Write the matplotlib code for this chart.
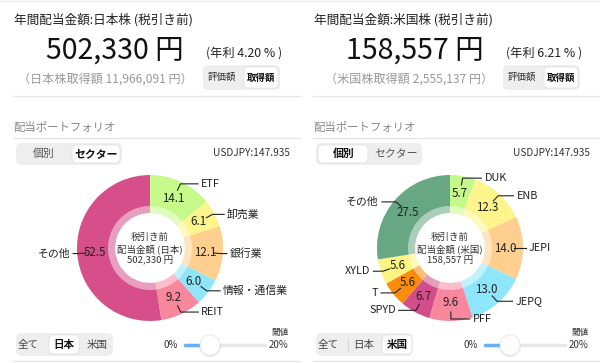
import matplotlib
matplotlib.use("Agg")
import numpy as np
import matplotlib.pyplot as plt
from matplotlib.patches import FancyBboxPatch, Circle, Wedge

plt.rcParams['font.family'] = ['Noto Sans CJK JP', 'DejaVu Sans']

# data
jp_labels = ["ETF", "卸売業", "銀行業", "情報・通信業", "REIT", "その他"]
jp_values = [14.1, 6.1, 12.1, 6.0, 9.2, 52.5]
jp_colors = ["#c5fa8a", "#fdf58c", "#fecf8f", "#8de6fa", "#f7879d", "#d64f8b"]

us_labels = ["DUK", "ENB", "JEPI", "JEPQ", "PFF", "SPYD", "T", "XYLD", "その他"]
us_values = [5.7, 12.3, 14.0, 13.0, 9.6, 6.7, 5.6, 5.6, 27.5]
us_colors = ["#c5fa8a", "#fdf58c", "#fecf8f", "#8de6fa", "#f7879d",
             "#d14e8a", "#f98c0c", "#fdf582", "#68a783"]

jp_head = dict(market="日本", total="502,330", rate="4.20", cost="11,966,091")
us_head = dict(market="米国", total="158,557", rate="6.21", cost="2,555,137")

W, H = 600, 363
fig = plt.figure(figsize=(6, 3.63), dpi=100)
bg = fig.add_axes([0, 0, 1, 1])
bg.set_xlim(0, W)
bg.set_ylim(H, 0)
bg.axis("off")

TXT = "#222222"
GRAY = "#999999"
LINE = "#e6e6e6"


def rbox(x, y, w, h, r, fc, ec="none", lw=0, z=1):
    bg.add_patch(FancyBboxPatch((x, y), w, h, boxstyle=f"round,pad=0,rounding_size={r}",
                                fc=fc, ec=ec, lw=lw, zorder=z))


def header(ox, info, seg_sel, area_sel):
    m = info["market"]
    bg.text(ox + 14, 24, f"年間配当金額:{m}株 (税引き前)", fontsize=9.1, color=TXT, va="baseline")
    bg.text(ox + 184, 59, f"{info['total']} 円", fontsize=20.5, color="#111111",
            ha="right", va="baseline")
    bg.text(ox + 282, 57, f"(年利 {info['rate']} % )", fontsize=8.8, color=TXT,
            ha="right", va="baseline")
    bg.text(ox + 193, 83, f"（{m}株取得額 {info['cost']} 円）", fontsize=8.7, color=GRAY,
            ha="right", va="baseline")
    # 評価額 / 取得額 toggle
    rbox(ox + 203, 65, 77, 25, 5, "#eeeeef")
    rbox(ox + 244, 67, 34, 21, 4, "white", ec="#dddddd", lw=0.5, z=2)
    bg.text(ox + 222, 77.5, "評価額", fontsize=6.8, color="#333333", ha="center", va="center", zorder=3)
    bg.text(ox + 261, 77.5, "取得額", fontsize=6.8, color="#111111", ha="center", va="center",
            fontweight="bold", zorder=3)
    bg.plot([ox + 13, ox + 300], [96, 96], color=LINE, lw=1)

    bg.text(ox + 13, 127, "配当ポートフォリオ", fontsize=8.2, color="#888888", va="center")
    bg.plot([ox + 13, ox + 300], [137.5, 137.5], color=LINE, lw=1)

    # 個別 / セクター
    rbox(ox + 16, 143, 106, 22, 6, "#eeeeef")
    if seg_sel == 1:
        rbox(ox + 72, 145, 48, 18, 5, "white", ec="#dddddd", lw=0.5, z=2)
    else:
        rbox(ox + 18, 145, 50, 18, 5, "white", ec="#dddddd", lw=0.5, z=2)
    bg.text(ox + 44, 154, "個別", fontsize=7.8, ha="center", va="center", zorder=3,
            color="#111111" if seg_sel == 0 else "#555555",
            fontweight="bold" if seg_sel == 0 else "normal")
    bg.text(ox + 96, 154, "セクター", fontsize=7.8, ha="center", va="center", zorder=3,
            color="#111111" if seg_sel == 1 else "#555555",
            fontweight="bold" if seg_sel == 1 else "normal")
    bg.text(ox + 290, 153, "USDJPY:147.935", fontsize=7.3, color="#333333", ha="right", va="center")

    # 全て / 日本 / 米国
    rbox(ox + 16, 333, 97, 23, 6, "#eeeeef")
    centers = [28, 64, 97]
    names = ["全て", "日本", "米国"]
    rbox(ox + centers[area_sel] - 15, 335, 30, 19, 5, "white", ec="#dddddd", lw=0.5, z=2)
    if area_sel == 2:
        bg.plot([ox + 48, ox + 48], [339, 350], color="#d6d6d6", lw=0.8, zorder=2)
    for i, (c, n) in enumerate(zip(centers, names)):
        bg.text(ox + c, 345, n, fontsize=7.6, ha="center", va="center", zorder=3,
                color="#111111" if i == area_sel else "#444444",
                fontweight="bold" if i == area_sel else "normal")

    # slider
    bg.text(ox + 178, 345, "0%", fontsize=7, color="#333333", ha="right", va="center")
    bg.text(ox + 269, 345, "20%", fontsize=7, color="#333333", ha="left", va="center")
    bg.text(ox + 288, 332, "閾値", fontsize=6.2, color="#333333", ha="right", va="center")
    bg.plot([ox + 185, ox + 265], [345, 345], color="#e8e8e8", lw=2.5, solid_capstyle="round")
    bg.plot([ox + 185, ox + 199], [345, 345], color="#6aaef5", lw=2.5, solid_capstyle="round")
    bg.add_patch(Circle((ox + 210, 346.5), 10.8, fc="black", alpha=0.07, lw=0, zorder=4))
    bg.add_patch(Circle((ox + 210, 345), 10, fc="white", ec="#e2e2e2", lw=0.5, zorder=5))
    bg.plot([ox + 13, ox + 300], [361, 361], color=LINE, lw=1)


def donut(ox, labels, values, colors, info):
    ax = fig.add_axes([ox / W, 15 / H, 300 / W, 200 / H])
    wedges, _ = ax.pie(values, colors=colors, startangle=90, counterclock=False,
                       radius=73, wedgeprops=dict(width=38, linewidth=0))
    ax.set_xlim(-150, 150)
    ax.set_ylim(-100, 100)
    ax.set_aspect("auto")
    ax.add_patch(Wedge((0, 0), 42, 0, 360, width=7, fc="white", alpha=0.45, lw=0))
    for w, lab, v in zip(wedges, labels, values):
        th = np.deg2rad((w.theta1 + w.theta2) / 2)
        c, s = np.cos(th), np.sin(th)
        ax.text(55 * c, 55 * s, f"{v:.1f}", ha="center", va="center", fontsize=8.3, color=TXT)
        side = 1 if c >= 0 else -1
        xe, ye = 71 * c, 71 * s
        xh = xe + side * (5 + 14 * abs(s))
        ax.plot([64 * c, xe, xh], [64 * s, ye, ye], color="#222222", lw=0.8, clip_on=False)
        ax.text(xh + side * 3, ye, lab, ha="left" if side > 0 else "right", va="center",
                fontsize=7.8, color=TXT)
    ax.text(0, 11, "税引き前", ha="center", va="center", fontsize=6.8, color="#333333")
    ax.text(0, -1, f"配当金額 ({info['market']})", ha="center", va="center", fontsize=6.8, color="#333333")
    ax.text(0, -12.5, f"{info['total']} 円", ha="center", va="center", fontsize=6.9, color="#333333")


bg.plot([0, W], [0.5, 0.5], color="#eeeeee", lw=1)
header(0, jp_head, 1, 1)
header(300, us_head, 0, 2)
donut(0, jp_labels, jp_values, jp_colors, jp_head)
donut(300, us_labels, us_values, us_colors, us_head)

fig.savefig("out.png", dpi=100, facecolor="white")
